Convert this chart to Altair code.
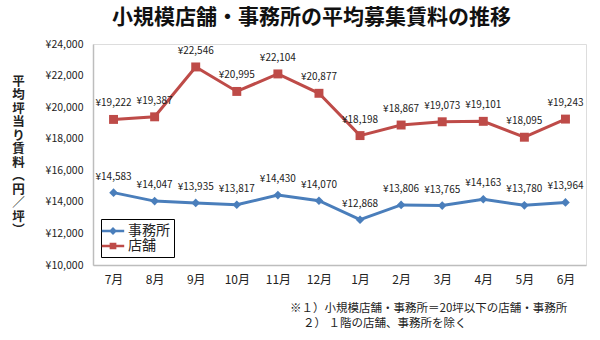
import altair as alt
import pandas as pd

months = ["7月", "8月", "9月", "10月", "11月", "12月", "1月", "2月", "3月", "4月", "5月", "6月"]
office = [14583, 14047, 13935, 13817, 14430, 14070, 12868, 13806, 13765, 14163, 13780, 13964]
store = [19222, 19387, 22546, 20995, 22104, 20877, 18198, 18867, 19073, 19101, 18095, 19243]
series_names = ["事務所", "店舗"]
colors = ["#4A7EBB", "#BE4B48"]
title_text = "小規模店舗・事務所の平均募集賃料の推移"
y_title_chars = ["平", "均", "坪", "当", "り", "賃", "料", "︵", "円", "／", "坪", "︶"]
note_lines = ["※１）小規模店舗・事務所＝20坪以下の店舗・事務所", "２） １階の店舗、事務所を除く"]
y_ticks = [10000, 12000, 14000, 16000, 18000, 20000, 22000, 24000]

FONT = "Noto Sans CJK JP"

rows = []
for m, o, s in zip(months, office, store):
    rows.append({"month": m, "series": series_names[0], "value": o})
    rows.append({"month": m, "series": series_names[1], "value": s})
df = pd.DataFrame(rows)

x_enc = alt.X("month:N", sort=months, scale=alt.Scale(type="point", padding=0.5),
              axis=alt.Axis(title=None, labelAngle=0, labelFontSize=12, labelColor="#222",
                            labelPadding=9, ticks=False, domainColor="#bdbdbd", domainWidth=1.5,
                            labelFont=FONT))
y_enc = alt.Y("value:Q", scale=alt.Scale(domain=[10000, 24000], nice=False, zero=False),
              axis=alt.Axis(values=y_ticks, grid=False, ticks=False, domainColor="#bdbdbd",
                            domainWidth=1.5, labelFontSize=10.5, labelColor="#222", labelPadding=10,
                            labelFont=FONT,
                            labelExpr="'¥' + format(datum.value, ',')",
                            title=y_title_chars, titleAngle=0, titleX=-75, titleY=31,
                            titleBaseline="top", titleAlign="center", titleFontSize=12.5,
                            titleFontWeight="bold", titleLineHeight=13.5, titleFont=FONT,
                            titleColor="#222"))

leg_paths = [
    "M-1.4,-0.15H1.4V0.15H-1.4Z M0,-0.5L0.5,0L0,0.5L-0.5,0Z",
    "M-1.4,-0.15H1.4V0.15H-1.4Z M-0.42,-0.42H0.42V0.42H-0.42Z",
]
color_enc = alt.Color("series:N", scale=alt.Scale(domain=series_names, range=colors),
                      legend=alt.Legend(title=None, orient="none", legendX=8, legendY=175,
                                        strokeColor="#000", fillColor="#fff", padding=4,
                                        labelFontSize=14, labelFont=FONT, labelColor="#222",
                                        symbolSize=256, symbolOpacity=1, rowPadding=0,
                                        labelOffset=7, symbolStrokeWidth=0))

base = alt.Chart(df)

legend_layer = base.mark_point(filled=True, opacity=0).encode(
    x=x_enc, y=y_enc, color=color_enc,
    shape=alt.Shape("series:N", scale=alt.Scale(domain=series_names, range=leg_paths)),
)

lines = base.mark_line(strokeWidth=3).encode(x=x_enc, y=y_enc, color=alt.Color("series:N"))

diamonds = base.transform_filter(alt.datum.series == series_names[0]).mark_point(
    shape="diamond", filled=True, size=75, opacity=1
).encode(x=x_enc, y=y_enc, color=alt.Color("series:N"))

squares = base.transform_filter(alt.datum.series == series_names[1]).mark_point(
    shape="square", filled=True, size=80, opacity=1
).encode(x=x_enc, y=y_enc, color=alt.Color("series:N"))

labels = base.transform_calculate(
    label="'¥' + format(datum.value, ',')"
).mark_text(dy=-16, fontSize=10, font=FONT, color="#222").encode(
    x=x_enc, y=y_enc, text="label:N"
)

notes_df = pd.DataFrame({"t": note_lines, "xo": [197, 210], "yo": [265, 280]})
notes = alt.Chart(notes_df).mark_text(align="left", baseline="middle", fontSize=11.5,
                                       font=FONT, color="#222").encode(
    x=alt.X("xo:Q", scale=None), y=alt.Y("yo:Q", scale=None), text="t:N"
)

chart = alt.layer(legend_layer, lines, diamonds, squares, labels, notes).properties(
    width=493, height=221,
    padding={"left": 93, "top": 44, "right": 14, "bottom": 75},
    autosize="none",
    title=alt.TitleParams(title_text, fontSize=21, fontWeight="bold", font=FONT,
                          anchor="middle", dx=-28, offset=11, color="#111"),
).configure_view(stroke=None).configure(background="white")

chart.save("out.html", embed_options={"renderer": "svg", "actions": False})
